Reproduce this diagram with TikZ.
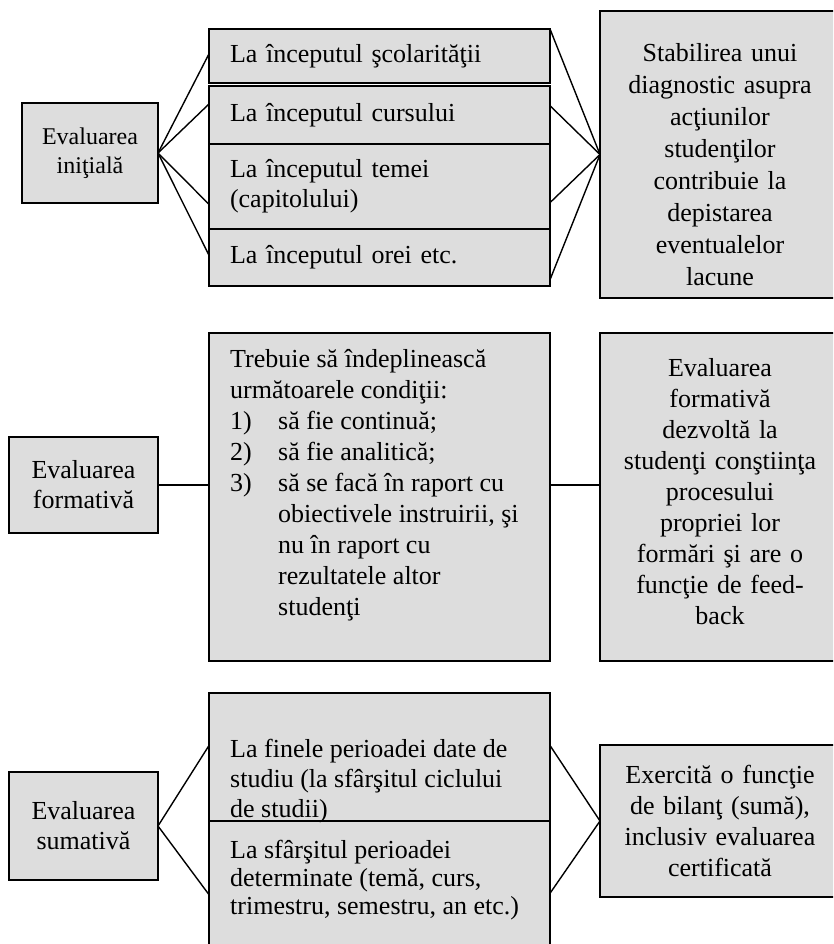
\documentclass[tikz,border=0pt]{standalone}
\usepackage{fontspec}
\setmainfont{Liberation Serif}
\usetikzlibrary{calc}
\definecolor{boxgray}{RGB}{221,221,221}
\tikzset{
  box/.style={draw=black, line width=1.4pt, fill=boxgray, inner sep=0pt, outer sep=0pt},
  headbox/.style={box, align=center, font=\fontsize{26}{30}\selectfont},
  listbox/.style={box, align=left, inner xsep=21pt, text width=299pt, minimum height=#1,
                  font=\fontsize{26}{30}\selectfont},
  notebox/.style={box, align=center, text width=236pt, font=\fontsize{26}{31}\selectfont},
  plain/.style={inner sep=0pt, align=left, anchor=north west},
  link/.style={line width=1.4pt},
}
\begin{document}
\begin{tikzpicture}[x=1pt,y=-1pt]
\useasboundingbox (0,0) rectangle (833,944);
\clip (0,0) rectangle (833,944);

% --- initial evaluation ---
\node[headbox, minimum width=136, minimum height=100, font=\fontsize{24}{29}\selectfont]
  (ei) at (90,153) {Evaluarea\\iniţială};
\node[listbox=54] (a1) at (379.5,56)    {La începutul şcolarităţii};
\node[listbox=58] (a2) at (379.5,115)   {La începutul cursului};
\node[listbox=85] (a3) at (379.5,186.5) {La începutul temei\\(capitolului)};
\node[listbox=57] (a4) at (379.5,257.5) {La începutul orei etc.};
\node[notebox, minimum width=240, minimum height=287, font=\fontsize{26}{32}\selectfont] (r1) at (720,154.5)
  {\mbox{}\\[6pt]Stabilirea unui\\diagnostic asupra\\acţiunilor\\studenţilor\\contribuie la\\depistarea\\eventualelor\\lacune};

\draw[link] (ei.east) -- ($(a1.north west)!0.46!(a1.south west)$);
\draw[link] (ei.east) -- ($(a2.north west)!0.31!(a2.south west)$);
\draw[link] (ei.east) -- ($(a3.north west)!0.71!(a3.south west)$);
\draw[link] (ei.east) -- ($(a4.north west)!0.46!(a4.south west)$);
\draw[link] (a1.north east) -- (r1.west);
\draw[link] ($(a2.north east)!0.34!(a2.south east)$) -- (r1.west);
\draw[link] ($(a3.north east)!0.69!(a3.south east)$) -- (r1.west);
\draw[link] ($(a4.north east)!0.89!(a4.south east)$) -- (r1.west);

% --- formative evaluation ---
\node[headbox, minimum width=149, minimum height=96] (ef) at (83.5,485) {Evaluarea\\formativă};
\node[box, minimum width=341, minimum height=328] (m) at (379.5,497) {};
\node[plain, font=\fontsize{26}{31}\selectfont] (mt) at ($(m.north west)+(21,16)$)
  {Trebuie să îndeplinească\\
   următoarele condiţii:\\
   \makebox[48pt][l]{1)}să fie continuă;\\
   \makebox[48pt][l]{2)}să fie analitică;\\
   \makebox[48pt][l]{3)}să se facă în raport cu\\
   \hspace*{48pt}obiectivele instruirii, şi\\
   \hspace*{48pt}nu în raport cu\\
   \hspace*{48pt}rezultatele altor\\
   \hspace*{48pt}studenţi};
\node[notebox, minimum width=240, minimum height=328] (rf) at (720,497)
  {Evaluarea\\formativă\\dezvoltă la\\studenţi conştiinţa\\procesului\\propriei lor\\formări şi are o\\funcţie de feed-\\back\\[-20pt]\mbox{}};

\draw[link] (ef.east) -- (ef.east -| m.west);
\draw[link] (ef.east -| m.east) -- (ef.east -| rf.west);

% --- summative evaluation ---
\node[headbox, minimum width=149, minimum height=108] (es) at (83.5,826) {Evaluarea\\sumativă};
\node[box, minimum width=341, minimum height=128] (b1) at (379.5,757) {};
\node[box, minimum width=341, minimum height=139] (b2) at (379.5,890.5) {};
\node[plain, font=\fontsize{26}{30}\selectfont] (b1t) at ($(b1.north west)+(21,46)$)
  {La finele perioadei date de\\studiu (la sfârşitul ciclului\\de studii)};
\node[plain, font=\fontsize{26}{28}\selectfont] (b2t) at ($(b2.north west)+(21,19)$)
  {La sfârşitul perioadei\\determinate (temă, curs,\\trimestru, semestru, an etc.)};
\node[notebox, minimum width=240, minimum height=152] (rs) at (720,821)
  {Exercită o funcţie\\de bilanţ (sumă),\\inclusiv evaluarea\\certificată};

\draw[link] (es.east) -- ($(b1.north west)!0.41!(b1.south west)$);
\draw[link] (es.east) -- ($(b2.north west)!0.53!(b2.south west)$);
\draw[link] ($(b1.north east)!0.41!(b1.south east)$) -- (rs.west);
\draw[link] ($(b2.north east)!0.52!(b2.south east)$) -- (rs.west);
\end{tikzpicture}
\end{document}
